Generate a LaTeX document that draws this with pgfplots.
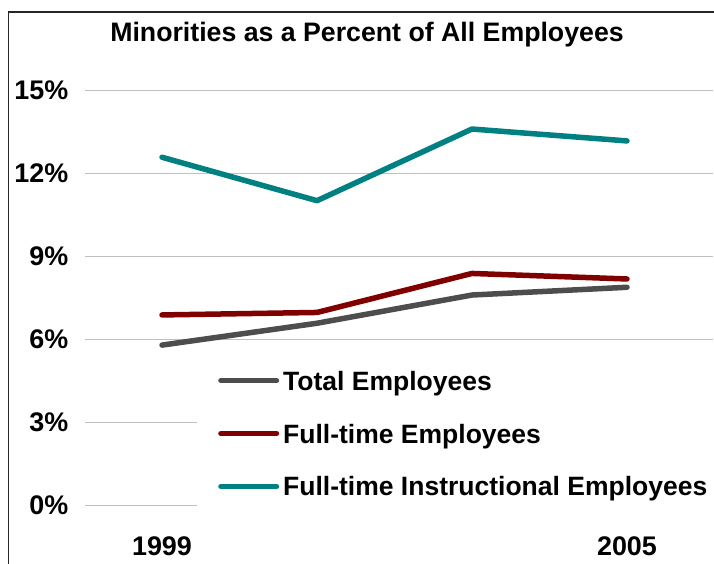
\documentclass[border=0pt]{standalone}
\usepackage{pgfplots}
\pgfplotsset{compat=1.18}
\usepackage{fontspec}
\setmainfont{Liberation Sans}
\definecolor{cteal}{HTML}{008080}
\definecolor{cred}{HTML}{800000}
\definecolor{cgray}{HTML}{4D4D4D}
\definecolor{cgrid}{HTML}{C0C0C0}
\begin{document}
\begin{tikzpicture}[x=1bp,y=1bp]
\useasboundingbox (0,0) rectangle (714,564);
\draw[line width=1.3bp, black!85] (8.5,-10) -- (8.5,552) -- (730,552);
\node[font=\fontsize{26.8}{30}\selectfont\bfseries] at (367,529) {Minorities as a Percent of All Employees};
\begin{axis}[
  at={(84.5bp,58.7bp)}, anchor=south west,
  scale only axis, width=628.5bp, height=415bp,
  xmin=-0.5, xmax=3.555, ymin=0, ymax=15,
  xtick={0,3}, xticklabels={1999,2005},
  ytick={0,3,6,9,12,15},
  yticklabel={\pgfmathprintnumber{\tick}\%},
  /pgf/number format/assume math mode=true,
  axis line style={draw=none},
  major tick length=0pt,
  ymajorgrids, grid style={line width=1bp, cgrid},
  ticklabel style={font=\fontsize{27}{30}\selectfont\bfseries},
  yticklabel style={anchor=east, inner sep=0pt, xshift=-16bp},
  xticklabel style={anchor=center, inner sep=0pt, yshift=-41bp},
  legend cell align=left,
  legend style={at={(rel axis cs:0.179,0.355)}, anchor=north west,
    fill=white, draw=none, inner xsep=21bp, inner ysep=12bp,
    font=\fontsize{26.6}{30}\selectfont\bfseries,
    row sep=24.9bp, column sep=0bp,
    nodes={inner sep=0pt, text height=20bp, text depth=8bp}},
  legend image code/.code={\draw[#1, line cap=round] (2.75bp,0.35em) -- (58.25bp,0.35em);},
  every axis plot/.append style={line width=5.5bp, line join=round, line cap=round},
]
\addplot[cgray] coordinates {(0,5.79) (1,6.58) (2,7.60) (3,7.88)};
\addlegendentry{\hspace{4bp}Total Employees}
\addplot[cred] coordinates {(0,6.88) (1,6.97) (2,8.38) (3,8.18)};
\addlegendentry{\hspace{4bp}Full-time Employees}
\addplot[cteal] coordinates {(0,12.58) (1,11.01) (2,13.60) (3,13.17)};
\addlegendentry{\hspace{4bp}Full-time Instructional Employees}
\end{axis}
\end{tikzpicture}
\end{document}
